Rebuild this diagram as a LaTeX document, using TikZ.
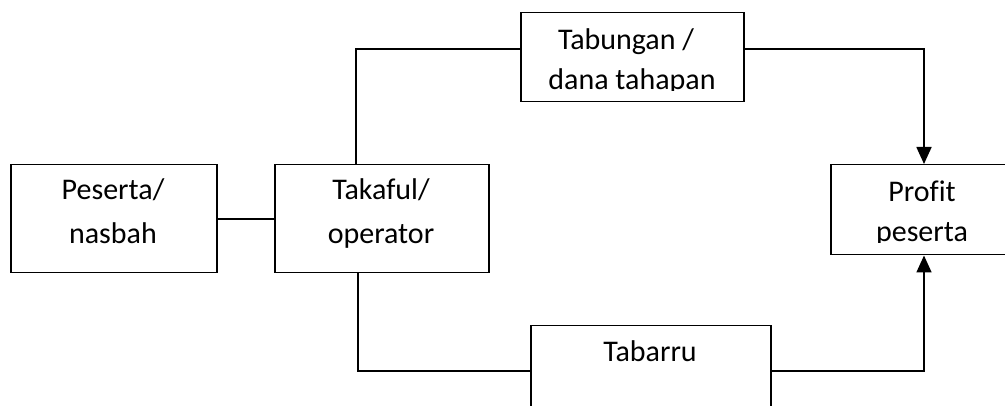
\documentclass[tikz,border=0pt]{standalone}
\usepackage{fontspec}
\setmainfont[Ligatures=NoCommon]{Carlito}
\usetikzlibrary{arrows.meta}
\begin{document}
\begin{tikzpicture}[x=1pt,y=-1pt,
  box/.style={draw,line width=1.5pt,inner sep=0pt,anchor=north west},
  lbl/.style={font=\fontsize{30}{36}\selectfont,inner sep=0pt,anchor=base},
  conn/.style={line width=1.7pt},
  arr/.style={conn,-{Triangle[width=15pt,length=17pt]}}]
\clip (0,0) rectangle (1005,406);
\fill[white] (0,0) rectangle (1005,406);
% boxes
\node[box,minimum width=206pt,minimum height=108pt] (pes) at (10,164) {};
\node[box,minimum width=214pt,minimum height=108pt] (tak) at (274,164) {};
\node[box,minimum width=223pt,minimum height=89pt] (tab) at (520,12) {};
\node[box,minimum width=184pt,minimum height=90pt] (prof) at (830,164) {};
\node[box,minimum width=240pt,minimum height=90pt] (tbr) at (530,325) {};
% labels
\node[lbl] (pes1) at (113,200) {Peserta/};
\node[lbl] (pes2) at (113,244) {nasbah};
\node[lbl] (tak1) at (381,200) {Takaful/};
\node[lbl] (tak2) at (381,244) {operator};
\node[lbl] (tab1) at (626,50) {Tabungan /};
\begin{scope}
  \clip (520,12) rectangle (743,91);
  \node[lbl] (tab2) at (632,90) {dana tahapan};
\end{scope}
\node[lbl] (prof1) at (922,202) {Profit};
\begin{scope}
  \clip (830,164) rectangle (1005,243);
  \node[lbl] (prof2) at (922,242) {peserta};
\end{scope}
\node[lbl] (tbr1) at (650,362) {Tabarru};
% connectors
\draw[conn] (pes.east) -- (tak.west);
\draw[conn] ([xshift=82pt]tak.north west) |- ([yshift=8pt]tab.west);
\draw[arr] ([yshift=8pt]tab.east) -| ([xshift=94pt]prof.north west);
\draw[conn] ([xshift=84pt]tak.south west) |- (tbr.west);
\draw[arr] (tbr.east) -| ([xshift=94pt]prof.south west);
\end{tikzpicture}
\end{document}
